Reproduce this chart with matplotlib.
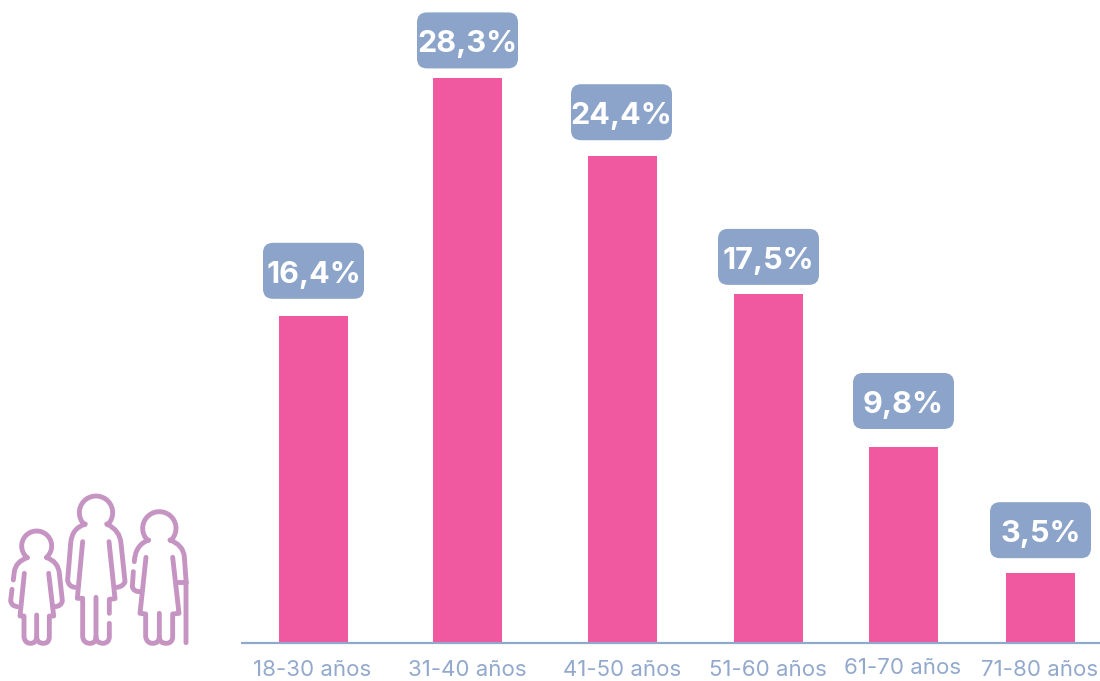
import numpy as np
import matplotlib
matplotlib.use("Agg")
import matplotlib.pyplot as plt
from matplotlib.patches import FancyBboxPatch, PathPatch
from matplotlib.path import Path

categories = ["18-30 años", "31-40 años", "41-50 años", "51-60 años", "61-70 años", "71-80 años"]
values = [16.4, 28.3, 24.4, 17.5, 9.8, 3.5]
value_labels = ["16,4%", "28,3%", "24,4%", "17,5%", "9,8%", "3,5%"]

bar_x = [313.5, 467.5, 622.5, 768.5, 903.5, 1040.5]
badge_x = [313.5, 467.5, 621.5, 768.5, 903.5, 1040.5]
badge_gap = [17, 10, 16, 9, 18.5, 15]
label_x = [312.5, 467, 622, 768, 903, 1039.5]
label_y = [670.5, 670.5, 670.5, 670.5, 668, 670.5]

PINK = "#F0589F"
BLUE = "#8CA4C9"
MAUVE = "#C594C2"
FONT = ["Inter", "DejaVu Sans"]
W, H = 1100, 681
BASE_Y = 643
PX_PER_UNIT = 19.95

fig = plt.figure(figsize=(W / 100, H / 100), dpi=100, facecolor="white")
ax = fig.add_axes([0, 0, 1, 1])
ax.set_xlim(0, W)
ax.set_ylim((BASE_Y - H) / PX_PER_UNIT, BASE_Y / PX_PER_UNIT)
ax.axis("off")

ax.bar(bar_x, values, width=69, color=PINK, linewidth=0, zorder=2)
ax.plot([241, W], [0, 0], color="#8FA8CC", lw=1.6, zorder=3, solid_capstyle="butt")

# overlay in pixel coordinates for annotations and the icon
ov = fig.add_axes([0, 0, 1, 1])
ov.set_xlim(0, W)
ov.set_ylim(H, 0)
ov.axis("off")
ov.patch.set_alpha(0)

BW, BH, R = 101, 56, 10
for x, v, txt, gap in zip(badge_x, values, value_labels, badge_gap):
    top = BASE_Y - v * PX_PER_UNIT
    y1 = top - gap
    ov.add_patch(FancyBboxPatch((x - BW / 2 + R, y1 - BH + R), BW - 2 * R, BH - 2 * R,
                                boxstyle=f"round,pad={R},rounding_size={R}",
                                fc=BLUE, ec="none", zorder=4))
    ov.text(x, y1 - BH / 2 + 4, txt, color="white", fontsize=22, fontweight="bold",
            family=FONT, ha="center", va="center", zorder=5)

for x, y, c in zip(label_x, label_y, categories):
    ov.text(x, y, c, color="#92A9CD", fontsize=16, family=FONT, ha="center", va="center")


def head(cx, cy, r, p0, p1):
    a0 = np.arctan2(p0[1] - cy, p0[0] - cx)
    a1 = np.arctan2(p1[1] - cy, p1[0] - cx)
    if a1 > a0:
        a1 -= 2 * np.pi
    a = np.linspace(a0, a1, 40)
    return np.c_[cx + r * np.cos(a), cy + r * np.sin(a)]


def stroke(*segs):
    """Each seg: ('M'|'L', p) or ('Q', c, p) in zoomed icon units."""
    verts, codes = [], []
    for s in segs:
        if s[0] == "M":
            verts.append(s[1]); codes.append(Path.MOVETO)
        elif s[0] == "L":
            verts.append(s[1]); codes.append(Path.LINETO)
        else:
            verts += [s[1], s[2]]; codes += [Path.CURVE3, Path.CURVE3]
    v = np.array(verts, float)
    v = np.c_[v[:, 0] / 3, 480 + v[:, 1] / 3]
    ov.add_patch(PathPatch(Path(v, codes), fc="none", ec=MAUVE, lw=3.5,
                           capstyle="round", joinstyle="round", zorder=3))


def polyline(pts):
    stroke(("M", tuple(pts[0])), *[("L", tuple(p)) for p in pts[1:]])


# child
polyline(head(110, 198, 45, (140, 233), (82, 233)))
stroke(("M", (40, 300)), ("L", (43, 275)), ("Q", (47, 245), (82, 233)))
stroke(("M", (140, 233)), ("Q", (175, 245), (178, 280)), ("L", (187, 362)),
       ("Q", (185, 378), (165, 380)))
stroke(("M", (36, 328)), ("L", (32, 362)), ("Q", (34, 378), (52, 380)))
stroke(("M", (73, 280)), ("L", (60, 408)), ("L", (72, 408)), ("L", (72, 470)),
       ("Q", (74, 490), (91, 490)), ("Q", (110, 490), (110, 470)), ("L", (110, 405)))
stroke(("M", (110, 470)), ("Q", (110, 490), (130, 490)), ("Q", (148, 490), (148, 470)),
       ("L", (148, 408)), ("L", (161, 408)), ("L", (146, 280)))
# woman
polyline(head(288, 98, 50, (320, 132), (256, 132)))
stroke(("M", (256, 132)), ("Q", (215, 145), (212, 190)), ("L", (203, 300)),
       ("Q", (205, 320), (225, 322)))
stroke(("M", (320, 132)), ("Q", (360, 150), (363, 190)), ("L", (375, 305)),
       ("Q", (370, 320), (350, 322)))
stroke(("M", (248, 185)), ("L", (232, 355)), ("L", (248, 355)), ("L", (248, 470)),
       ("Q", (250, 490), (270, 490)), ("Q", (288, 490), (288, 470)), ("L", (288, 352)))
stroke(("M", (288, 470)), ("Q", (288, 490), (310, 490)), ("Q", (328, 488), (328, 470)),
       ("L", (328, 430)))
stroke(("M", (328, 400)), ("L", (328, 358)), ("L", (345, 356)), ("L", (327, 185)))
# grandmother
polyline(head(478, 145, 50, (510, 180), (446, 180)))
stroke(("M", (446, 180)), ("Q", (405, 195), (403, 245)))
stroke(("M", (400, 275)), ("L", (397, 320)), ("Q", (400, 335), (420, 335)))
stroke(("M", (438, 232)), ("L", (420, 400)), ("L", (437, 402)), ("L", (437, 470)),
       ("Q", (440, 490), (458, 490)), ("Q", (478, 490), (478, 470)), ("L", (478, 400)))
stroke(("M", (478, 470)), ("Q", (478, 490), (498, 490)), ("Q", (518, 490), (518, 470)),
       ("L", (518, 402)), ("L", (537, 400)), ("L", (518, 232)))
stroke(("M", (510, 180)), ("Q", (550, 195), (553, 230)), ("L", (558, 300)), ("L", (558, 488)))
stroke(("M", (534, 305)), ("L", (558, 305)))

fig.savefig("out.png", dpi=100, facecolor="white")
